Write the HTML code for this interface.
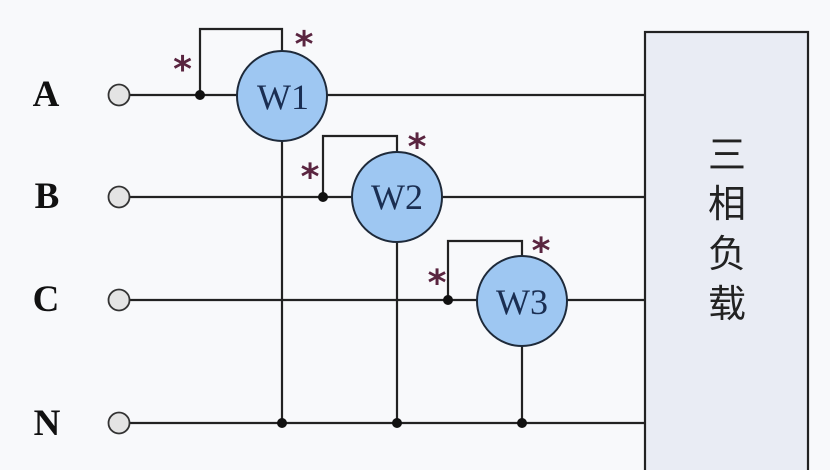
<!DOCTYPE html>
<html><head><meta charset="utf-8"><style>
html,body{margin:0;padding:0;background:#f8f9fb;}
svg{display:block;}
</style></head><body>
<svg width="830" height="470" viewBox="0 0 830 470" xmlns="http://www.w3.org/2000/svg">
<rect x="0" y="0" width="830" height="470" fill="#f8f9fb"/>
<!-- load box -->
<rect x="645" y="32" width="163" height="450" fill="#e9ecf4" stroke="#222" stroke-width="2.2"/>
<g font-family="'Noto Sans CJK SC', 'WenQuanYi Zen Hei', sans-serif" font-size="38" fill="#222" text-anchor="middle">
<text x="727" y="168">三</text>
<text x="727" y="217">相</text>
<text x="727" y="267">负</text>
<text x="727" y="317">载</text>
</g>
<g stroke="#222" stroke-width="2.2" fill="none">
<line x1="130" y1="95" x2="645" y2="95"/>
<line x1="130" y1="197" x2="645" y2="197"/>
<line x1="130" y1="300" x2="645" y2="300"/>
<line x1="130" y1="423" x2="645" y2="423"/>
<line x1="282" y1="141" x2="282" y2="423"/>
<line x1="397" y1="242" x2="397" y2="423"/>
<line x1="522" y1="346" x2="522" y2="423"/>
<polyline points="200,95 200,29 282,29 282,51"/>
<polyline points="323,197 323,136 397,136 397,152"/>
<polyline points="448,300 448,241 522,241 522,256"/>
</g>
<g fill="#e4e4e4" stroke="#333" stroke-width="1.8">
<circle cx="119" cy="95" r="10.5"/>
<circle cx="119" cy="197" r="10.5"/>
<circle cx="119" cy="300" r="10.5"/>
<circle cx="119" cy="423" r="10.5"/>
</g>
<g fill="#9ec7f2" stroke="#1e2a3a" stroke-width="2">
<circle cx="282" cy="96" r="45"/>
<circle cx="397" cy="197" r="45"/>
<circle cx="522" cy="301" r="45"/>
</g>
<g font-family="'Liberation Serif', serif" font-size="36" fill="#1a2e52" text-anchor="middle">
<text x="283" y="109">W1</text>
<text x="397" y="209">W2</text>
<text x="522" y="314">W3</text>
</g>
<g fill="#111">
<circle cx="200" cy="95" r="5"/>
<circle cx="323" cy="197" r="5"/>
<circle cx="448" cy="300" r="5"/>
<circle cx="282" cy="423" r="5"/>
<circle cx="397" cy="423" r="5"/>
<circle cx="522" cy="423" r="5"/>
</g>
<g font-family="'DejaVu Sans', sans-serif" font-size="36" font-weight="bold" fill="#5a2540" text-anchor="middle">
<text x="182.5" y="81.5">*</text>
<text x="304" y="56.5">*</text>
<text x="310" y="189">*</text>
<text x="417" y="159">*</text>
<text x="437" y="295">*</text>
<text x="541" y="263">*</text>
</g>
<g font-family="'Liberation Serif', serif" font-weight="bold" font-size="37" fill="#111" text-anchor="middle">
<text x="46" y="106">A</text>
<text x="47" y="208">B</text>
<text x="46" y="311">C</text>
<text x="47" y="435">N</text>
</g>
</svg>
</body></html>
